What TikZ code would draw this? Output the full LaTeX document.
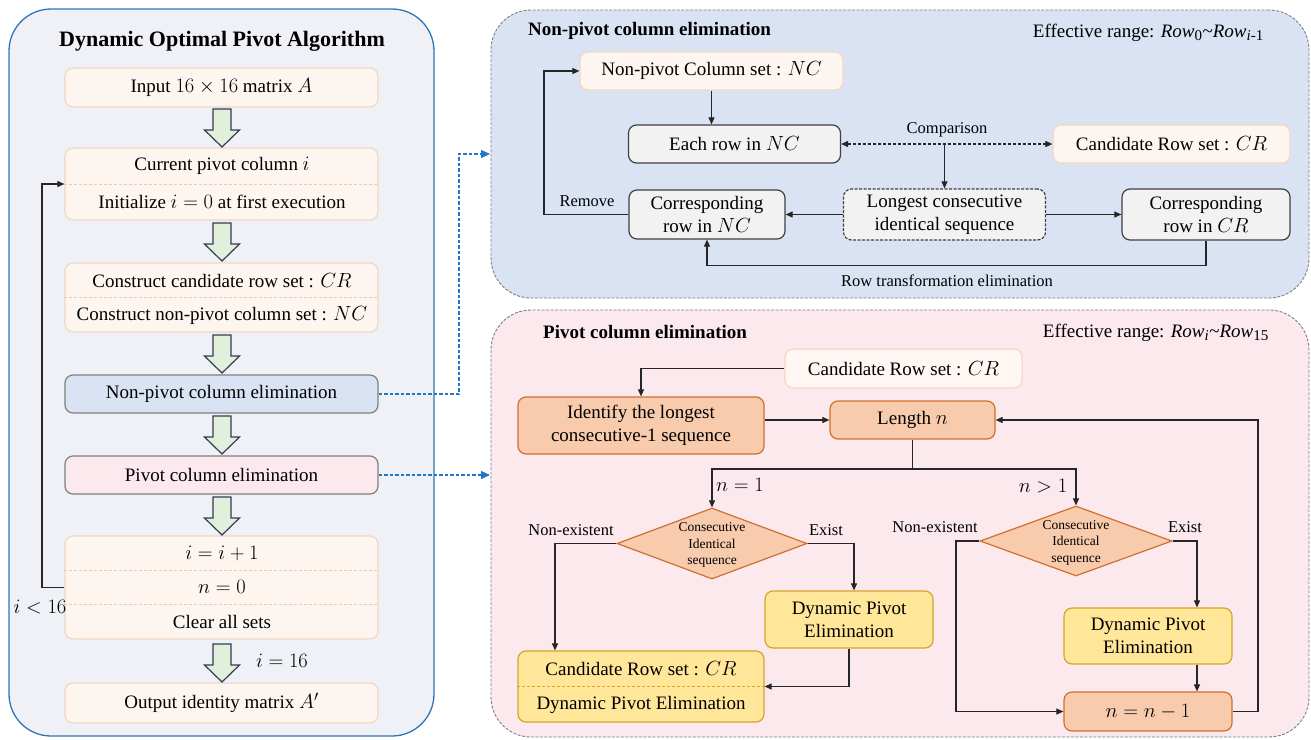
\RequirePackage{fix-cm}
\documentclass[tikz,border=0pt]{standalone}
\usepackage{fontspec}
\setmainfont{Liberation Serif}
\DeclareMathSizes{19}{20.5}{15}{12}
\usetikzlibrary{arrows.meta,shapes.geometric}
\definecolor{panelLfill}{HTML}{EFF1F6}
\definecolor{panelLdraw}{HTML}{2E75B6}
\definecolor{lfill}{HTML}{FDF5F0}
\definecolor{ldraw}{HTML}{F2D7C2}
\definecolor{ldiv}{HTML}{F1C9AA}
\definecolor{gfill}{HTML}{E2EFDA}
\definecolor{gdraw}{HTML}{2F3E55}
\definecolor{bluefill}{HTML}{DAE3F3}
\definecolor{pinkfill}{HTML}{FBE9EE}
\definecolor{boxgray}{HTML}{7F7F7F}
\definecolor{grayfill}{HTML}{F2F2F2}
\definecolor{graydraw}{HTML}{404040}
\definecolor{ofill}{HTML}{F8CBAD}
\definecolor{odraw}{HTML}{D0702F}
\definecolor{yfill}{HTML}{FFE699}
\definecolor{ydraw}{HTML}{D4A52A}
\definecolor{conncol}{HTML}{262626}
\definecolor{bconncol}{HTML}{1F78C8}
\definecolor{vlfill}{HTML}{FEF7F3}
\begin{document}
\begin{tikzpicture}[x=1pt,y=-1pt,
  txt/.style={font=\fontsize{19}{23}\selectfont, inner sep=0pt, align=center},
  smalltxt/.style={font=\fontsize{16.5}{19}\selectfont, inner sep=0pt, align=center},
  dtxt/.style={font=\fontsize{13.5}{16.5}\selectfont, inner sep=0pt, align=center},
  ttltxt/.style={font=\fontsize{19}{22}\selectfont\bfseries, inner sep=0pt},
  basebox/.style={rounded corners=8pt, line width=1.2pt, inner sep=0pt, align=center, font=\fontsize{19}{23}\selectfont},
  lbox/.style={basebox, draw=ldraw, fill=lfill, minimum width=313pt},
  gbox/.style={basebox, draw=graydraw, fill=grayfill},
  obox/.style={basebox, draw=odraw, fill=ofill},
  ybox/.style={basebox, draw=ydraw, fill=yfill},
  odiam/.style={shape=diamond, draw=odraw, fill=ofill, line width=1.2pt, inner sep=0pt},
  conn/.style={draw=conncol, line width=1.1pt, -{Triangle[length=7pt,width=6pt]}},
  plainconn/.style={draw=conncol, line width=1.1pt},
  bconn/.style={draw=bconncol, line width=1.1pt, dash pattern=on 3.5pt off 2pt, -{Triangle[length=9pt,width=8pt]}},
  ldivider/.style={draw=ldiv, line width=0.9pt, dash pattern=on 3pt off 2pt},
  garrow/.style={draw=gdraw, fill=gfill, line width=1.2pt, line join=miter},
  gdown/.pic={\path[garrow] (-9,0) -- (9,0) -- (9,21) -- (17.5,21) -- (0,38) -- (-17.5,21) -- (-9,21) -- cycle;}
]
\useasboundingbox (0,0) rectangle (1311,739);

% ---------- panels ----------
\node[draw=panelLdraw, fill=panelLfill, line width=1.3pt, rounded corners=42pt,
      minimum width=425pt, minimum height=727pt, inner sep=0pt] (pl) at (221.5,372.5) {};
\node[draw=boxgray, fill=bluefill, line width=0.9pt, dash pattern=on 3pt off 1.5pt, rounded corners=40pt,
      minimum width=818pt, minimum height=288pt, inner sep=0pt] (pt) at (900,154) {};
\node[draw=boxgray, fill=pinkfill, line width=0.9pt, dash pattern=on 3pt off 1.5pt, rounded corners=40pt,
      minimum width=818pt, minimum height=427pt, inner sep=0pt] (pb) at (900,523.5) {};

% ---------- left panel ----------
\node[font=\fontsize{22}{25}\selectfont\bfseries, inner sep=0pt] (ttl) at (222,41) {Dynamic Optimal Pivot Algorithm};

\node[lbox, minimum height=39pt] (in) at (221.5,87.5) {Input $16\times16$ matrix $A$};
\node[lbox, minimum height=72pt] (cp) at (221.5,184) {};
\node[txt] (cpa) at (222,166) {Current pivot column $i$};
\node[txt] (cpb) at (222,202) {Initialize $i=0$ at first execution};
\node[lbox, minimum height=69pt] (cs) at (221.5,297.5) {};
\node[txt] (csa) at (222,281) {Construct candidate row set : $CR$};
\node[txt] (csb) at (222,315.5) {Construct non-pivot column set : $NC$};
\node[basebox, draw=boxgray, fill=bluefill, minimum width=313pt, minimum height=38pt] (npe) at (221.5,394) {Non-pivot column elimination};
\node[basebox, draw=boxgray, fill=pinkfill, minimum width=313pt, minimum height=38pt] (pce) at (221.5,475) {Pivot column elimination};
\node[lbox, minimum height=103pt] (ib) at (221.5,587.5) {};
\node[txt] (iba) at (222,553) {$i=i+1$};
\node[txt] (ibb) at (222,587) {$n=0$};
\node[txt] (ibc) at (222,621.5) {Clear all sets};
\node[lbox, minimum height=40pt] (out) at (221.5,703) {Output identity matrix $A'$};

\draw[ldivider] (cp.west) -- (cp.east);
\draw[ldivider] (cs.west) -- (cs.east);
\draw[ldivider] (ib.west |- 0,570) -- (ib.east |- 0,570);
\draw[ldivider] (ib.west |- 0,604) -- (ib.east |- 0,604);

\pic at (222,109) {gdown};
\pic at (222,223) {gdown};
\pic at (222,335) {gdown};
\pic at (222,416) {gdown};
\pic at (222,497) {gdown};
\pic at (222,644) {gdown};

\draw[conn] (ib.west) -- (42,587.5) |- (cp.west);
\node[txt] (lt16) at (40,607) {$i<16$};
\node[txt] (eq16) at (282,661) {$i=16$};

% blue dashed links
\coordinate (t1) at (490,154);
\coordinate (t2) at (490,475);
\draw[bconn] (npe.east) -- (459,394) |- (t1);
\draw[bconn] (pce.east) -- (t2);

% ---------- top right panel ----------
\node[ttltxt, anchor=west] (ttr) at (528,31) {Non-pivot column elimination};
\node[txt, anchor=east] (efr1) at (1264,33) {Effective range: \textit{Row}\textsubscript{0}\textasciitilde\textit{Row}\textsubscript{\textit{i}-1}};

\node[lbox, minimum width=263pt, minimum height=38pt] (ncs) at (711.5,71) {Non-pivot Column set : $NC$};
\node[gbox, minimum width=212pt, minimum height=38pt] (erow) at (734.5,144) {Each row in $NC$};
\node[lbox, minimum width=237pt, minimum height=38pt] (crs) at (1171.5,144) {Candidate Row set : $CR$};
\node[gbox, dash pattern=on 3pt off 1.5pt, minimum width=202pt, minimum height=51pt] (lcs) at (944.5,214.5) {Longest consecutive\\identical sequence};
\node[gbox, minimum width=156pt, minimum height=49pt] (cnc) at (707,214.5) {Corresponding\\row in $NC$};
\node[gbox, minimum width=168pt, minimum height=51pt] (ccr) at (1206,214.5) {Corresponding\\row in $CR$};

\draw[conn] (ncs.south) -- (erow.north -| ncs.south);
\draw[draw=conncol, line width=1.1pt, dash pattern=on 3pt off 2pt, {Triangle[length=7pt,width=6pt]}-{Triangle[length=7pt,width=6pt]}] (erow.east) -- (crs.west);
\node[smalltxt] (cmp) at (947,130) {Comparison};
\coordinate (cj) at (944.5,144);
\draw[conn] (cj) -- (lcs.north);
\draw[conn] (lcs.west) -- (cnc.east);
\draw[conn] (lcs.east) -- (ccr.west);
\draw[conn] (ccr.south) -- ++(0,25) -| (cnc.south);
\node[smalltxt] (rte) at (947,281) {Row transformation elimination};
\draw[conn] (cnc.west) -- (544,214.5) |- (ncs.west);
\node[smalltxt] (rmv) at (587,201) {Remove};

% ---------- bottom right panel ----------
\node[ttltxt, anchor=west] (tbr) at (543,332) {Pivot column elimination};
\node[txt, anchor=east] (efr2) at (1269,333) {Effective range: \textit{Row}\textsubscript{\textit{i}}\textasciitilde\textit{Row}\textsubscript{15}};

\node[basebox, draw=ldraw, fill=vlfill, minimum width=237pt, minimum height=39pt] (crt) at (903.5,368.5) {Candidate Row set : $CR$};
\node[obox, minimum width=246pt, minimum height=57pt] (idf) at (641,425.5) {Identify the longest\\consecutive-1 sequence};
\node[obox, minimum width=165pt, minimum height=38pt] (len) at (912.5,420) {Length $n$};
\node[odiam, minimum width=190pt, minimum height=71pt] (d1) at (712,543.5) {};
\node[dtxt] (d1t) at (712,545) {Consecutive\\Identical\\sequence};
\node[odiam, minimum width=192pt, minimum height=70pt] (d2) at (1076,541) {};
\node[dtxt] (d2t) at (1076,542.5) {Consecutive\\Identical\\sequence};
\node[ybox, minimum width=168pt, minimum height=57pt] (dpe1) at (849,619.5) {Dynamic Pivot\\Elimination};
\node[ybox, minimum width=246pt, minimum height=71pt] (crd) at (641,686.5) {};
\node[txt] (crda) at (641,669) {Candidate Row set : $CR$};
\node[txt] (crdb) at (641,705) {Dynamic Pivot Elimination};
\draw[draw=ydraw, line width=0.9pt, dash pattern=on 3pt off 2pt] (crd.west) -- (crd.east);
\node[ybox, minimum width=168pt, minimum height=56pt] (dpe2) at (1148,636) {Dynamic Pivot\\Elimination};
\node[obox, minimum width=168pt, minimum height=39pt] (nn) at (1148,711.5) {$n=n-1$};

\draw[conn] (crt.west) -| (idf.north);
\draw[conn] (len.west -| idf.east) -- (len.west);
\coordinate (jn) at (912.5,469);
\draw[plainconn] (len.south) -- (jn);
\draw[conn] (jn) -| (d1.north);
\draw[conn] (jn) -| (d2.north);
\node[txt] (ne1) at (740,485) {$n=1$};
\node[txt] (ng1) at (1043,486) {$n>1$};

\draw[conn] (d1.west) -| ([xshift=-86pt]crd.north);
\draw[conn] (d1.east) -| ([xshift=5pt]dpe1.north);
\node[smalltxt] (nx1) at (571,530) {Non-existent};
\node[smalltxt] (ex1) at (826,530) {Exist};
\draw[conn] (dpe1.south) |- (crd.east);

\draw[conn] (d2.west) -- (956,541) |- (nn.west);
\draw[conn] (d2.east) -| ([xshift=49pt]dpe2.north);
\draw[conn] ([xshift=49pt]dpe2.south) -- ([xshift=49pt]nn.north);
\node[smalltxt] (nx2) at (935,527) {Non-existent};
\node[smalltxt] (ex2) at (1185,527) {Exist};
\draw[conn] (nn.east) -- (1258,711.5) |- (len.east);
\end{tikzpicture}
\end{document}
